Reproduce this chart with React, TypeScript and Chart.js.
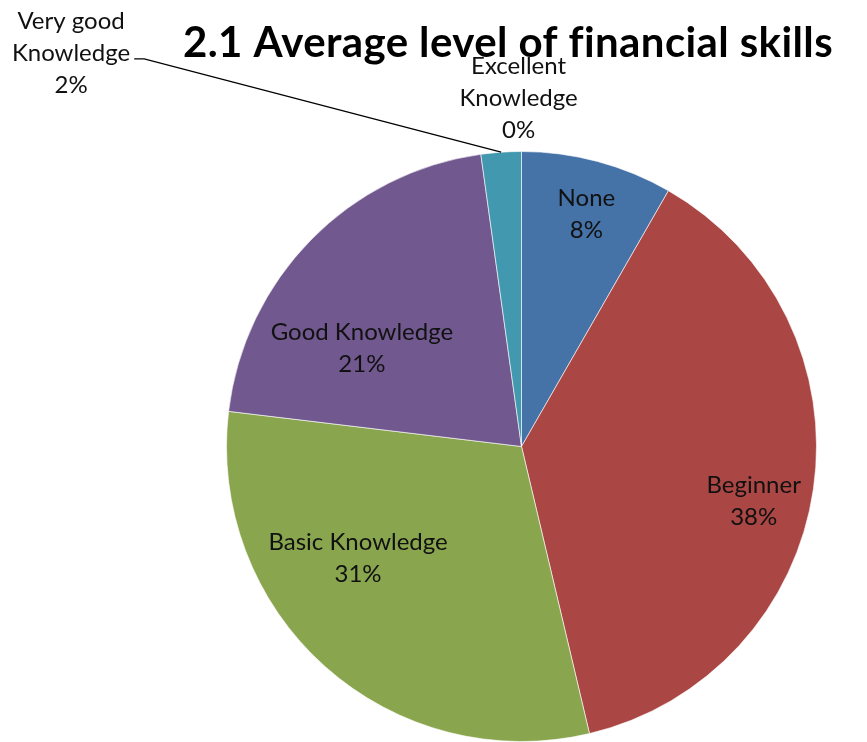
import React, { useEffect, useRef } from "react";
import { Chart, registerables } from "chart.js";

Chart.register(...registerables);

const TITLE = "2.1 Average level of financial skills";
const categories = ["None", "Beginner", "Basic Knowledge", "Good Knowledge", "Very good Knowledge", "Excellent Knowledge"];
const values = [8.3, 38.0, 30.6, 20.9, 2.2, 0];
const percentLabels = ["8%", "38%", "31%", "21%", "2%", "0%"];
const labelLines = [["None"], ["Beginner"], ["Basic Knowledge"], ["Good Knowledge"], ["Very good", "Knowledge"], ["Excellent", "Knowledge"]];
const colors = ["#4572A7", "#AA4643", "#89A54E", "#71588F", "#4198AF", "#DB843D"];
// label block centre offsets, as fractions of the pie radius (layout only)
const labelOffsets = [
  [0.22, -0.787],
  [0.787, 0.186],
  [-0.554, 0.378],
  [-0.541, -0.334],
  [-1.527, -1.334],
  [-0.01, -1.179],
];
const leaderIndex = 4;

const W = 867;
const H = 742;
const LABEL_FONT = "24px Lato";
const LINE_H = 32;

const labelPlugin = {
  id: "pieLabels",
  afterDraw(chart: any) {
    const ctx = chart.ctx;
    const meta = chart.getDatasetMeta(0);
    const arc0 = meta.data[0];
    const cx = arc0.x;
    const cy = arc0.y;
    const r = arc0.outerRadius;
    ctx.save();
    // title
    ctx.fillStyle = "#000";
    ctx.font = "bold 42px Lato";
    ctx.textAlign = "center";
    ctx.textBaseline = "middle";
    try { (ctx as any).letterSpacing = "0.4px"; } catch (e) {}
    ctx.fillText(TITLE, 508, 43);
    try { (ctx as any).letterSpacing = "0px"; } catch (e) {}

    ctx.font = LABEL_FONT;
    ctx.fillStyle = "#111";
    meta.data.forEach((arc: any, i: number) => {
      const lines = [...labelLines[i], percentLabels[i]];
      const lx = cx + labelOffsets[i][0] * r;
      const ly = cy + labelOffsets[i][1] * r;
      const top = ly - ((lines.length - 1) * LINE_H) / 2;
      let maxW = 0;
      lines.forEach((t, k) => {
        ctx.fillText(t, lx, top + k * LINE_H);
        maxW = Math.max(maxW, ctx.measureText(t).width);
      });
      if (i === leaderIndex) {
        const mid = (arc.startAngle + arc.endAngle) / 2;
        const ex = cx + Math.cos(mid) * r;
        const ey = cy + Math.sin(mid) * r;
        const sx = lx + maxW / 2 + 4;
        const sy = ly + 6;
        ctx.strokeStyle = "#000";
        ctx.lineWidth = 1.3;
        ctx.beginPath();
        ctx.moveTo(sx, sy);
        ctx.lineTo(sx + 10, sy);
        ctx.lineTo(ex, ey);
        ctx.stroke();
      }
    });
    ctx.restore();
  },
};

export default function App() {
  const ref = useRef<HTMLCanvasElement | null>(null);
  useEffect(() => {
    if (!ref.current) return;
    const chart = new Chart(ref.current, {
      type: "pie",
      data: {
        labels: categories,
        datasets: [
          {
            data: values,
            backgroundColor: colors,
            borderColor: "rgba(255,255,255,0.6)",
            borderWidth: 1,
          },
        ],
      },
      options: {
        responsive: false,
        animation: false,
        layout: { padding: { left: 226, right: 50, top: 151, bottom: 0 } },
        plugins: {
          legend: { display: false },
          title: { display: false },
          tooltip: { enabled: false },
        },
      },
      plugins: [labelPlugin],
    });
    return () => chart.destroy();
  }, []);
  return (
    <div style={{ position: "fixed", left: 0, top: 0, width: W, height: H, background: "#fff" }}>
      <canvas ref={ref} width={W} height={H} style={{ width: W, height: H, display: "block" }} />
    </div>
  );
}
